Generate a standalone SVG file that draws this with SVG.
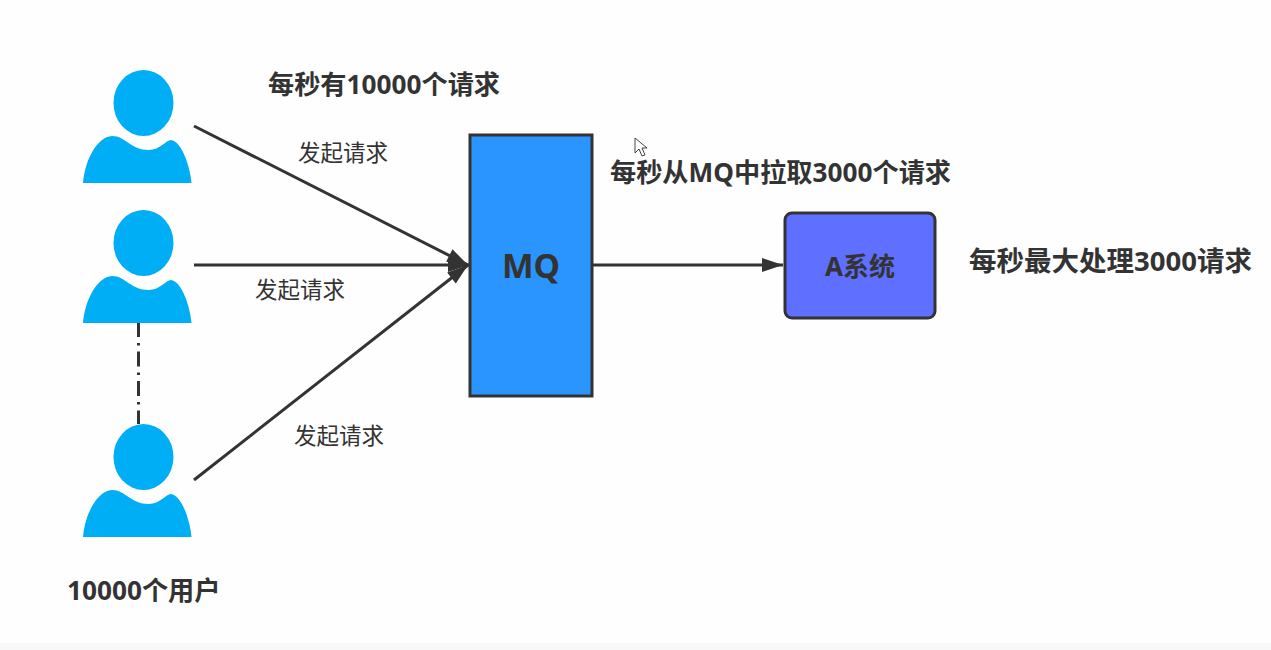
<svg xmlns="http://www.w3.org/2000/svg" width="1271" height="650" viewBox="0 0 1271 650">
<style>
text{font-family:"Noto Sans","Noto Sans CJK SC",sans-serif;fill:#333;}
.b{font-weight:bold;font-size:26.200px;}
.n{font-size:22.500px;}
.line{stroke:#333;stroke-width:3;fill:none;}
.user{fill:#00aef5;}
</style>
<defs>
<marker id="arrow" markerUnits="userSpaceOnUse" markerWidth="24" markerHeight="18" refX="22" refY="9" orient="auto"><path d="M1 2L22 9L1 16Z" fill="#333"/></marker>
<g id="person">
<ellipse class="user" cx="143.500" cy="103" rx="30" ry="33"/>
<path class="user" d="M83 183C85 160 97 137 112 136C126 136 130 150 149 150C160 150 166 140 171 140C181 141 190 165 191.500 183Z"/>
</g>
</defs>
<rect width="1271" height="650" fill="#fefefe"/>
<rect y="643" width="1271" height="7" fill="#f8f8f8"/>
<g id="connectors">
<path class="line" d="M194 126L468 265" marker-end="url(#arrow)"/>
<path class="line" d="M194 265H469" marker-end="url(#arrow)"/>
<path class="line" d="M194 480L468 265" marker-end="url(#arrow)"/>
<path class="line" d="M592 265H783" marker-end="url(#arrow)"/>
<path d="M138.500 322V424" stroke="#333" stroke-width="3" fill="none" stroke-dasharray="15 6 2.500 6"/>
</g>
<g id="user1"><use href="#person"/></g>
<g id="user2"><use href="#person" y="140"/></g>
<g id="user3"><use href="#person" y="354"/></g>
<g id="mq">
<rect x="470" y="135" width="122" height="261" fill="#2b95ff" stroke="#333" stroke-width="3"/>
<text x="531" y="278" text-anchor="middle" font-size="33.500" font-weight="bold">MQ</text>
</g>
<g id="systemA">
<rect x="785" y="213" width="150" height="105" rx="7" fill="#5f6fff" stroke="#333" stroke-width="3"/>
<text x="860" y="276" text-anchor="middle" font-size="26" font-weight="bold">A系统</text>
</g>
<g id="labels">
<text class="b" x="268" y="94">每秒有10000个请求</text>
<text class="n" x="298" y="161">发起请求</text>
<text class="n" x="255" y="298">发起请求</text>
<text class="n" x="294" y="444">发起请求</text>
<text class="b" x="610" y="182">每秒从MQ中拉取3000个请求</text>
<text class="b" x="969" y="271" style="font-size:27.500px">每秒最大处理3000请求</text>
<text class="b" x="67" y="600">10000个用户</text>
</g>
<path id="cursor" d="M635 138V153L639 149L642 156L645 155L642 148L647 148Z" fill="#fff" stroke="#444" stroke-width="1"/>
</svg>
